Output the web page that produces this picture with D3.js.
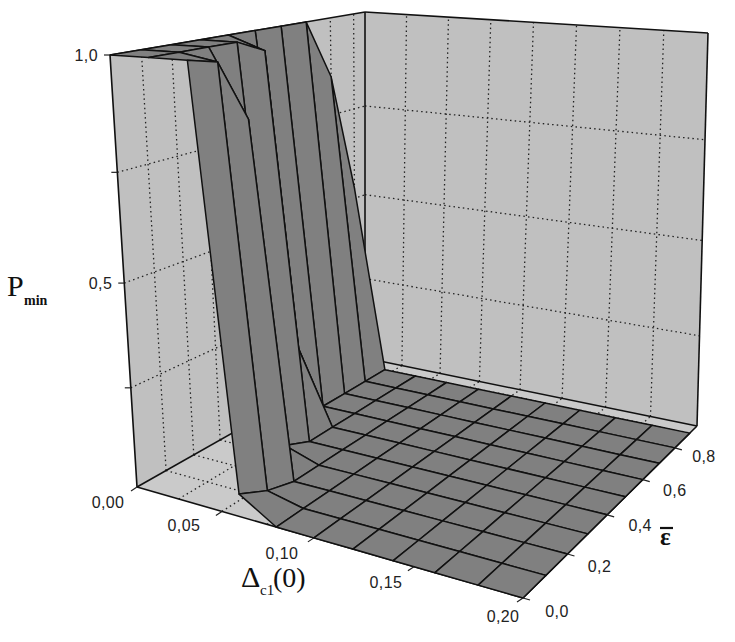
<!DOCTYPE html>
<html><head><meta charset="utf-8">
<script src="https://cdn.jsdelivr.net/npm/d3@7"></script>
<style>html,body{margin:0;padding:0;background:#fff}svg{display:block}</style>
</head><body><svg id="c" width="735" height="642"></svg>
<script>
// ---- data ----
const xGrid = [0,0.02,0.04,0.06,0.08,0.10,0.12,0.14,0.16,0.18,0.20];
const eGrid = [0,0.1,0.2,0.3,0.4,0.5,0.6,0.7,0.8,0.9];
const pRow0 = [1,1,1,0.055,0,0,0,0,0,0,0];
const pRow1 = [1,1,0.985,0.02,0,0,0,0,0,0,0];
const pRow2 = [1,1,0.85,0,0,0,0,0,0,0,0];
const pRow3 = [1,1,0.03,0,0,0,0,0,0,0,0];
const pRow4 = [1,0.97,0,0,0,0,0,0,0,0,0];
const pRow5 = [1,0.2,0,0,0,0,0,0,0,0,0];
const pRow6 = [1,0,0,0,0,0,0,0,0,0,0];
const pRow7 = [1,0,0,0,0,0,0,0,0,0,0];
const pRow8 = [0.85,0,0,0,0,0,0,0,0,0,0];
const pRow9 = [0.53,0,0,0,0,0,0,0,0,0,0];
const pRows = [pRow0,pRow1,pRow2,pRow3,pRow4,pRow5,pRow6,pRow7,pRow8,pRow9];
const xTicks = [0,0.05,0.10,0.15,0.20];
const xTickLabels = ["0,00","0,05","0,10","0,15","0,20"];
const eTicks = [0,0.2,0.4,0.6,0.8];
const eTickLabels = ["0,0","0,2","0,4","0,6","0,8"];
const pTicks = [0.5,1];
const pTickLabels = ["0,5","1,0"];
const pGridLines = [0.25,0.5,0.75];
const xWallLines = [0.025,0.05,0.075,0.10,0.125,0.15,0.175];
const eWallLines = [0.1,0.2,0.3,0.4,0.5,0.6,0.7,0.8,0.9];

// ---- box geometry ----
const floorC = {A:[137,487],B:[523,598],D:[697,426],C:[365,358]};
const topC   = {A:[110,55], B:[510,82], D:[708,33], C:[365,12]};
const xLabelDx=[-29,-38,-32,-28,-20], xLabelDy=[21,20,21,21,24];
const eLabelDx=[34,32,33,32,29], eLabelDy=[19,18,16,16,14];
function homography(q){
  const [x0,y0]=q.A,[x1,y1]=q.B,[x2,y2]=q.D,[x3,y3]=q.C;
  const dx1=x1-x2,dx2=x3-x2,sx=x0-x1+x2-x3,dy1=y1-y2,dy2=y3-y2,sy=y0-y1+y2-y3;
  const den=dx1*dy2-dx2*dy1;
  const g=(sx*dy2-dx2*sy)/den,h=(dx1*sy-sx*dy1)/den;
  const a=x1-x0+g*x1,b=x3-x0+h*x3,d=y1-y0+g*y1,e=y3-y0+h*y3;
  return (u,v)=>{const w=g*u+h*v+1;return [(a*u+b*v+x0)/w,(d*u+e*v+y0)/w];};
}
const hFloor=homography(floorC),hTop=homography(topC);
const xS=d3.scaleLinear().domain([0,0.2]).range([0,1]);
const eS=d3.scaleLinear().domain([0,0.95]).range([0,1]);
const pS=d3.scaleLinear().domain([0,1]).range([0,1]);
const K=0.894;
function proj(x,e,p){
  const u=xS(x),v=eS(e),t0=pS(p),t=t0*K/(1+(K-1)*t0);
  const f=hFloor(u,v),g=hTop(u,v);
  return [f[0]+(g[0]-f[0])*t,f[1]+(g[1]-f[1])*t];
}
const svg=d3.select("#c");
const line=d3.line();
const poly=pts=>line(pts)+"Z";
const xMax=0.2,eMax=0.95;

// walls and floor
svg.append("path").attr("d",poly([proj(0,0,0),proj(0,eMax,0),proj(0,eMax,1),proj(0,0,1)])).attr("fill","#c0c0c0");
svg.append("path").attr("d",poly([proj(0,eMax,0),proj(xMax,eMax,0),proj(xMax,eMax,1),proj(0,eMax,1)])).attr("fill","#c0c0c0");
svg.append("path").attr("d",poly([proj(0,0,0),proj(xMax,0,0),proj(xMax,eMax,0),proj(0,eMax,0)])).attr("fill","#cacaca");

// dotted grid
const dots=svg.append("g").attr("fill","none").attr("stroke","#222").attr("stroke-width",1.3).attr("stroke-dasharray","1.5 3.2");
pGridLines.forEach(p=>{
  dots.append("path").attr("d",line([proj(0,0,p),proj(0,eMax,p)]));
  dots.append("path").attr("d",line([proj(0,eMax,p),proj(xMax,eMax,p)]));
});
eWallLines.forEach(e=>{
  dots.append("path").attr("d",line([proj(0,e,0),proj(0,e,1)]));
  dots.append("path").attr("d",line([proj(0,e,0),proj(xMax,e,0)]));
});
xWallLines.forEach(x=>{
  dots.append("path").attr("d",line([proj(x,eMax,0),proj(x,eMax,1)]));
  dots.append("path").attr("d",line([proj(x,0,0),proj(x,eMax,0)]));
});

// box outline
const edges=[
  [[0,0,0],[0,0,1]],[[0,0,1],[0,eMax,1]],[[0,eMax,1],[xMax,eMax,1]],[[xMax,eMax,1],[xMax,eMax,0]],
  [[0,eMax,0],[0,eMax,1]],[[0,0,0],[0,eMax,0]],[[0,eMax,0],[xMax,eMax,0]],[[0,0,0],[xMax,0,0]],[[xMax,0,0],[xMax,eMax,0]]];
svg.append("g").attr("stroke","#111").attr("stroke-width",1.6).attr("fill","none")
  .selectAll("path").data(edges).join("path").attr("d",d=>line(d.map(a=>proj(...a))));

// surface, far cells first
const cells=[];
for(let i=eGrid.length-2;i>=0;i--)for(let j=0;j<xGrid.length-1;j++)cells.push({i,j});
svg.append("g").selectAll("path").data(cells).join("path")
  .attr("d",({i,j})=>poly([
    proj(xGrid[j],eGrid[i],pRows[i][j]),proj(xGrid[j+1],eGrid[i],pRows[i][j+1]),
    proj(xGrid[j+1],eGrid[i+1],pRows[i+1][j+1]),proj(xGrid[j],eGrid[i+1],pRows[i+1][j])]))
  .attr("fill","#808080").attr("stroke","#111").attr("stroke-width",1.5).attr("stroke-linejoin","round");

// ticks
const tk=svg.append("g").attr("stroke","#222").attr("stroke-width",1.2);
xTicks.forEach(x=>{const a=proj(x,0,0);tk.append("line").attr("x1",a[0]).attr("y1",a[1]).attr("x2",a[0]-6).attr("y2",a[1]+4);});
eTicks.forEach(e=>{const a=proj(xMax,e,0);tk.append("line").attr("x1",a[0]).attr("y1",a[1]).attr("x2",a[0]+7).attr("y2",a[1]+2);});
[0.25,0.5,0.75,1].forEach(p=>{const a=proj(0,0,p);tk.append("line").attr("x1",a[0]).attr("y1",a[1]).attr("x2",a[0]-6).attr("y2",a[1]);});

// tick labels
const lab=svg.append("g").attr("font-family","'Liberation Sans',Arial,sans-serif").attr("font-size",16).attr("fill","#222").attr("letter-spacing","0.4");
xTicks.forEach((x,i)=>{const a=proj(x,0,0);lab.append("text").attr("x",a[0]+xLabelDx[i]).attr("y",a[1]+xLabelDy[i]).attr("text-anchor","middle").text(xTickLabels[i]);});
eTicks.forEach((e,i)=>{const a=proj(xMax,e,0);lab.append("text").attr("x",a[0]+eLabelDx[i]).attr("y",a[1]+eLabelDy[i]).attr("text-anchor","middle").text(eTickLabels[i]);});
pTicks.forEach((p,i)=>{const a=proj(0,0,p);lab.append("text").attr("x",a[0]-12).attr("y",a[1]+6).attr("text-anchor","end").text(pTickLabels[i]);});

// axis titles
const t=svg.append("g").attr("font-family","'Liberation Serif','Times New Roman',serif").attr("fill","#111");
t.append("text").attr("x",7).attr("y",296).attr("font-size",30).text("P");
t.append("text").attr("x",24).attr("y",305).attr("font-size",14).attr("font-weight","bold").text("min");
t.append("text").attr("x",241).attr("y",587).attr("font-size",30).text("Δ");
t.append("text").attr("x",260).attr("y",595).attr("font-size",15).text("c1");
t.append("text").attr("x",273).attr("y",587).attr("font-size",28).text("(0)");
t.append("text").attr("x",660).attr("y",545).attr("font-size",25).attr("font-weight","bold").text("ε");
svg.append("line").attr("x1",660).attr("x2",673).attr("y1",528).attr("y2",528).attr("stroke","#111").attr("stroke-width",2.2);
</script></body></html>
